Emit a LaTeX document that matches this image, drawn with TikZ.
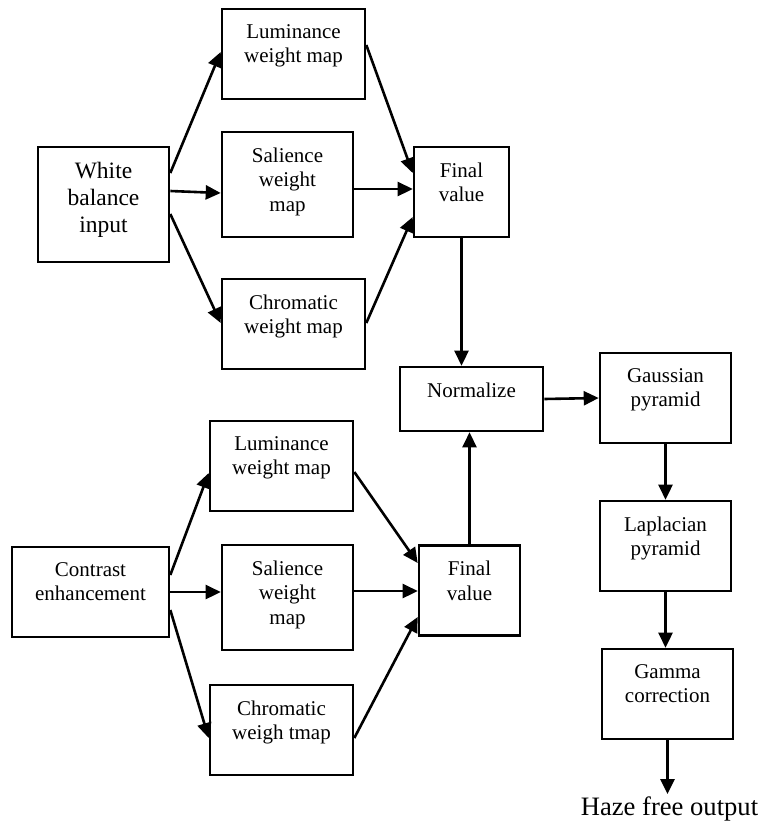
\documentclass[tikz,border=0pt]{standalone}
\usepackage{fontspec}
\setmainfont{Liberation Serif}
\usetikzlibrary{arrows.meta, calc, positioning}
\tikzset{blk/.style={draw=black, line width=2.6pt, inner sep=0pt, font=\fontsize{21}{24.5}\selectfont}}
\tikzset{arw/.style={line width=2.6pt, -{Triangle[length=15pt, width=14pt]}}}
\tikzset{outtxt/.style={inner sep=2pt, font=\fontsize{26.6}{30}\selectfont}}
\newcommand{\blocktext}[3]{\parbox[c][#2][t]{#1}{\centering\vspace*{15.5pt}#3}}

\begin{document}
\begin{tikzpicture}[x=1pt, y=-1pt]
                        \useasboundingbox (0, 0) rectangle (760, 822);

                        \node[blk, font=\fontsize{23.5}{27}\selectfont] (wb) at (103.5, 204.5) {\blocktext{131pt}{115pt}{White\\balance\\input}};
                        \node[blk] (lumA) at (293.5, 54) {\blocktext{143pt}{90pt}{Luminance\\weight map}};
                        \node[blk] (salA) at (287.5, 184.5) {\blocktext{131pt}{105pt}{Salience\\weight\\map}};
                        \node[blk] (chrA) at (293.5, 324) {\blocktext{143pt}{90pt}{Chromatic\\weight map}};
                        \node[blk] (finA) at (461.5, 192) {\blocktext{95pt}{90pt}{Final\\value}};

                        \node[blk] (norm) at (471.5, 399) {\blocktext{143pt}{64pt}{Normalize}};
                        \node[blk] (gauss) at (665.5, 398) {\blocktext{131pt}{90pt}{Gaussian\\pyramid}};
                        \node[blk] (lapl) at (665.5, 546) {\blocktext{131pt}{90pt}{Laplacian\\pyramid}};
                        \node[blk] (gamma) at (667.5, 694) {\blocktext{131pt}{90pt}{Gamma\\correction}};
                        \node[outtxt, anchor=base] (out) at (669.5, 815) {Haze free output};

                        \node[blk] (ce) at (90.5, 592) {\blocktext{157pt}{90pt}{Contrast\\enhancement}};
                        \node[blk] (lumB) at (281.5, 466) {\blocktext{143pt}{90pt}{Luminance\\weight map}};
                        \node[blk] (salB) at (287.5, 597.5) {\blocktext{131pt}{105pt}{Salience\\weight\\map}};
                        \node[blk] (chrB) at (281.5, 730) {\blocktext{143pt}{90pt}{Chromatic\\weigh tmap}};
                        \node[blk] (finB) at (469.5, 590.5) {\blocktext{101pt}{90pt}{Final\\value}};

                        \draw
                        (wb.east |- 0,173) edge[arw] (lumA.west |- 0,52)
                        (wb.east |- 0,191) edge[arw] (salA.west |- 0,193)
                        (wb.east |- 0,214) edge[arw] (chrA.west |- 0,323)
                        (lumA.east |- 0,45) edge[arw] (finA.west |- 0,173)
                        (salA.east |- 0,189) edge[arw] (finA.west |- 0,189)
                        (chrA.east |- 0,323) edge[arw] (finA.west |- 0,217)
                        (finA.south) edge[arw] (norm.north -| finA.south);

                        \draw
                        (ce.east |- 0,575) edge[arw] (lumB.west |- 0,473)
                        (ce.east |- 0,592) edge[arw] (salB.west |- 0,592)
                        (ce.east |- 0,610) edge[arw] (chrB.west |- 0,738)
                        (lumB.east |- 0,472) edge[arw] (finB.west |- 0,563)
                        (salB.east |- 0,591) edge[arw] (finB.west |- 0,591)
                        (chrB.east |- 0,738) edge[arw] (finB.west |- 0,617)
                        (finB.north) edge[arw] (norm.south -| finB.north);

                        \draw
                        (norm.east) edge[arw] (gauss.west)
                        (gauss.south) edge[arw] (gauss.south |- lapl.north)
                        (lapl.south) edge[arw] (lapl.south |- gamma.north)
                        (gamma.south) edge[arw] (gamma.south |- out.north);
\end{tikzpicture}
\end{document}
